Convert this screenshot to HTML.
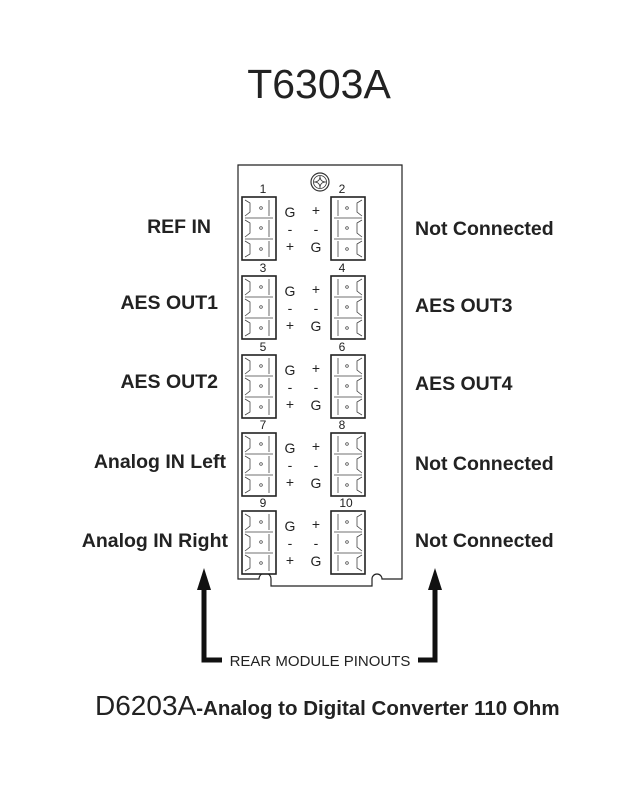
<!DOCTYPE html>
<html><head><meta charset="utf-8"><style>
html,body{margin:0;padding:0;background:#fff;}
svg{display:block;font-family:"Liberation Sans",Arial,sans-serif;}
.lbl{font-size:19.5px;font-weight:bold;fill:#222;}
.pin{font-size:14px;fill:#222;}
.num{font-size:12px;fill:#222;}
</style></head><body>
<svg width="642" height="806" viewBox="0 0 642 806">
<defs>
<g id="cl">
 <rect x="0" y="0" width="34" height="63" fill="#fff" stroke="#222" stroke-width="1.6"/>
 <g fill="none" stroke="#444" stroke-width="0.8">
  <path d="M3 3 L8 6 L8 15 L3 19 M27 3 L27 19 M3 23 L8 26 L8 36 L3 40 M27 23 L27 40 M3 44 L8 47 L8 57 L3 60 M27 44 L27 60"/>
  <path d="M3 21 H31 M3 42 H31"/>
 </g>
 <circle cx="19" cy="11" r="1.3" fill="none" stroke="#333" stroke-width="0.7"/>
 <circle cx="19" cy="31" r="1.3" fill="none" stroke="#333" stroke-width="0.7"/>
 <circle cx="19" cy="52" r="1.3" fill="none" stroke="#333" stroke-width="0.7"/>
</g>
<g id="cr">
 <rect x="0" y="0" width="34" height="63" fill="#fff" stroke="#222" stroke-width="1.6"/>
 <g fill="none" stroke="#444" stroke-width="0.8">
  <path d="M31 3 L26 6 L26 15 L31 19 M7 3 L7 19 M31 23 L26 26 L26 36 L31 40 M7 23 L7 40 M31 44 L26 47 L26 57 L31 60 M7 44 L7 60"/>
  <path d="M3 21 H31 M3 42 H31"/>
 </g>
 <circle cx="16" cy="11" r="1.3" fill="none" stroke="#333" stroke-width="0.7"/>
 <circle cx="16" cy="31" r="1.3" fill="none" stroke="#333" stroke-width="0.7"/>
 <circle cx="16" cy="52" r="1.3" fill="none" stroke="#333" stroke-width="0.7"/>
</g>
</defs>

<text x="319" y="98" text-anchor="middle" font-size="41" fill="#222">T6303A</text>

<path d="M238 165 H402 V579 H382 A5 5 0 0 0 372 579 V586 H271 V579 A6 6 0 0 0 259 579 H238 Z" fill="none" stroke="#222" stroke-width="1.2"/>
<circle cx="320" cy="182" r="9" fill="none" stroke="#333" stroke-width="1.2"/>
<circle cx="320" cy="182" r="6.5" fill="none" stroke="#333" stroke-width="0.8"/>
<path d="M314 182 Q320 182 320 176 Q320 182 326 182 Q320 182 320 188 Q320 182 314 182Z" fill="none" stroke="#333" stroke-width="0.8"/>

<use href="#cl" x="242" y="197"/><use href="#cr" x="331" y="197"/>
<use href="#cl" x="242" y="276"/><use href="#cr" x="331" y="276"/>
<use href="#cl" x="242" y="355"/><use href="#cr" x="331" y="355"/>
<use href="#cl" x="242" y="433"/><use href="#cr" x="331" y="433"/>
<use href="#cl" x="242" y="511"/><use href="#cr" x="331" y="511"/>

<g class="num" text-anchor="middle">
<text x="263" y="193">1</text><text x="342" y="193">2</text>
<text x="263" y="272">3</text><text x="342" y="272">4</text>
<text x="263" y="351">5</text><text x="342" y="351">6</text>
<text x="263" y="429">7</text><text x="342" y="429">8</text>
<text x="263" y="507">9</text><text x="346" y="507">10</text>
</g>

<g class="pin" text-anchor="middle">
<text x="290" y="217">G</text><text x="290" y="234">-</text><text x="290" y="251">+</text>
<text x="316" y="215">+</text><text x="316" y="234">-</text><text x="316" y="252">G</text>
<text x="290" y="296">G</text><text x="290" y="313">-</text><text x="290" y="330">+</text>
<text x="316" y="294">+</text><text x="316" y="313">-</text><text x="316" y="331">G</text>
<text x="290" y="375">G</text><text x="290" y="392">-</text><text x="290" y="409">+</text>
<text x="316" y="373">+</text><text x="316" y="392">-</text><text x="316" y="410">G</text>
<text x="290" y="453">G</text><text x="290" y="470">-</text><text x="290" y="487">+</text>
<text x="316" y="451">+</text><text x="316" y="470">-</text><text x="316" y="488">G</text>
<text x="290" y="531">G</text><text x="290" y="548">-</text><text x="290" y="565">+</text>
<text x="316" y="529">+</text><text x="316" y="548">-</text><text x="316" y="566">G</text>
</g>

<g class="lbl" text-anchor="end">
<text x="211" y="233">REF IN</text>
<text x="218" y="309">AES OUT1</text>
<text x="218" y="388">AES OUT2</text>
<text x="226" y="468">Analog IN Left</text>
<text x="228" y="547">Analog IN Right</text>
</g>
<g class="lbl">
<text x="415" y="235">Not Connected</text>
<text x="415" y="312">AES OUT3</text>
<text x="415" y="390">AES OUT4</text>
<text x="415" y="470">Not Connected</text>
<text x="415" y="547">Not Connected</text>
</g>

<path d="M204 588 V660 H222" fill="none" stroke="#111" stroke-width="5"/>
<path d="M197 590 L204 568 L211 590 Z" fill="#111"/>
<path d="M418 660 H435 V588" fill="none" stroke="#111" stroke-width="5"/>
<path d="M428 590 L435 568 L442 590 Z" fill="#111"/>
<text x="320" y="666" text-anchor="middle" font-size="15" fill="#222">REAR MODULE PINOUTS</text>

<text x="95" y="715" font-size="28" fill="#222">D6203A<tspan font-size="20.5" font-weight="bold">-Analog to Digital Converter 110 Ohm</tspan></text>
</svg>
</body></html>
